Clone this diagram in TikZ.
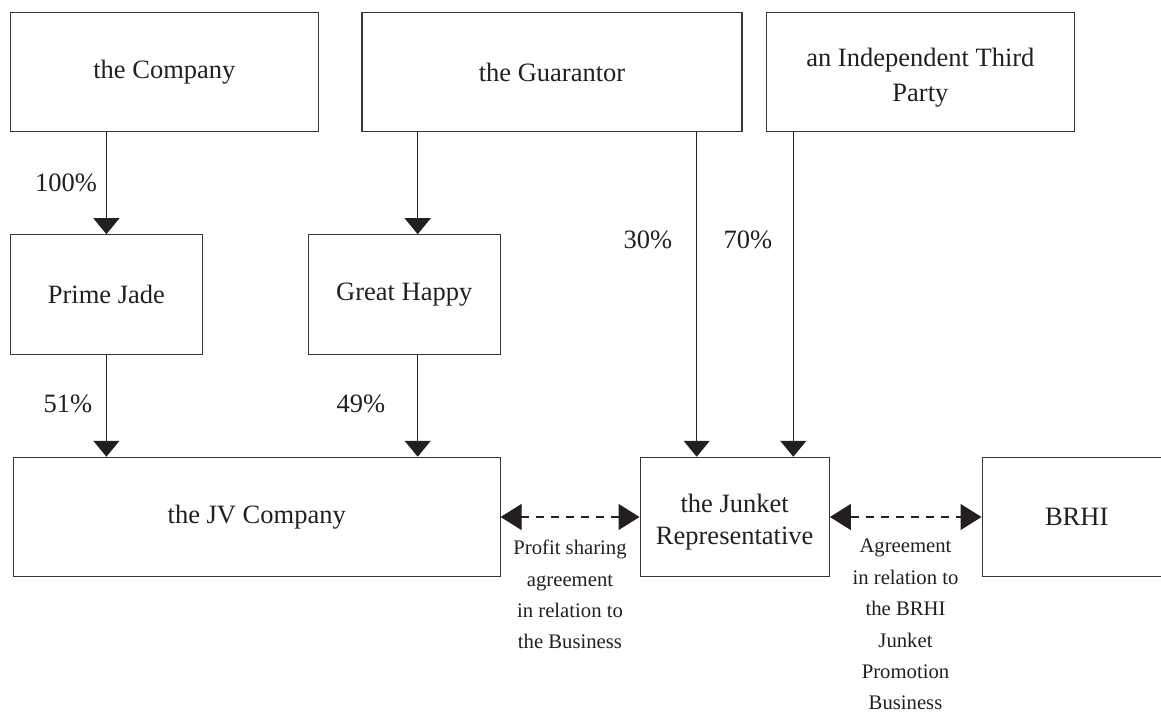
\documentclass[tikz,border=0pt]{standalone}
\usepackage{fontspec}
\setmainfont{Liberation Serif}
\usetikzlibrary{arrows.meta}
\definecolor{ink}{HTML}{231F20}
\definecolor{frame}{HTML}{3A3637}
\begin{document}
\begin{tikzpicture}[x=1pt,y=-1pt,
  box/.style={draw=frame, line width=1.1pt, rectangle, inner sep=0pt, align=center,
    text=ink, font=\fontsize{26.5}{34}\selectfont},
  pct/.style={text=ink, inner sep=0pt, font=\fontsize{26.5}{33}\selectfont},
  note/.style={text=ink, inner sep=0pt, align=center, font=\fontsize{20.7}{31.4}\selectfont},
  arr/.style={draw=ink, line width=1.2pt, -{Triangle[length=16pt,width=26pt]}},
  darr/.style={draw=ink, line width=1.2pt, dash pattern=on 8pt off 7pt,
    {Triangle[length=21pt,width=26pt]}-{Triangle[length=21pt,width=26pt]}}]
\useasboundingbox (0,0) rectangle (1161,714);
% top row
\node[box, minimum width=307.3pt, minimum height=119pt] (co) at (164.4,72.2) {the Company};
\node[box, minimum width=380pt, minimum height=119pt] (gu) at (552,72.2) {the Guarantor};
\node[box, minimum width=307.3pt, minimum height=119pt] (ip) at (920.4,72.2) {\rule{0pt}{29pt}an Independent Third\\[1.5pt]Party};
% middle row
\node[box, minimum width=191.3pt, minimum height=119.3pt] (pj) at (106.4,294.4) {Prime Jade};
\node[box, minimum width=191.7pt, minimum height=119.3pt] (gh) at (404.2,294.4) {Great Happy};
% bottom row
\node[box, minimum width=486.7pt, minimum height=119.4pt] (jv) at (256.7,517) {the JV Company};
\node[box, minimum width=189.3pt, minimum height=119.4pt] (jr) at (734.7,517) {\rule{0pt}{28pt}the Junket\\[-2pt]Representative};
\node[box, minimum width=189.3pt, minimum height=119.4pt] (br) at (1076.7,517) {BRHI};
% vertical connectors
\draw[arr] (co.south -| pj.north) -- (pj.north);
\draw[arr] (gu.south -| 417.7,0) -- (gh.north -| 417.7,0);
\draw[arr] (pj.south) -- (jv.north -| pj.south);
\draw[arr] (gh.south -| 417.7,0) -- (jv.north -| 417.7,0);
\draw[arr] (gu.south -| 696.7,0) -- (jr.north -| 696.7,0);
\draw[arr] (ip.south -| 793.3,0) -- (jr.north -| 793.3,0);
% horizontal dashed connectors
\draw[darr] (jv.east) -- (jr.west);
\draw[darr] (jr.east) -- (br.west);
% percentages
\node[pct] (p100) at (66,183) {100\%};
\node[pct] (p30) at (648,240) {30\%};
\node[pct] (p70) at (748,240) {70\%};
\node[pct] (p51) at (68,404) {51\%};
\node[pct] (p49) at (361,404) {49\%};
% agreement notes
\node[note, anchor=north] (n1) at (570,540) {Profit sharing\\agreement\\in relation to\\the Business};
\node[note, anchor=north] (n2) at (905.5,539) {Agreement\\in relation to\\the BRHI\\Junket\\Promotion\\Business};
\end{tikzpicture}
\end{document}
